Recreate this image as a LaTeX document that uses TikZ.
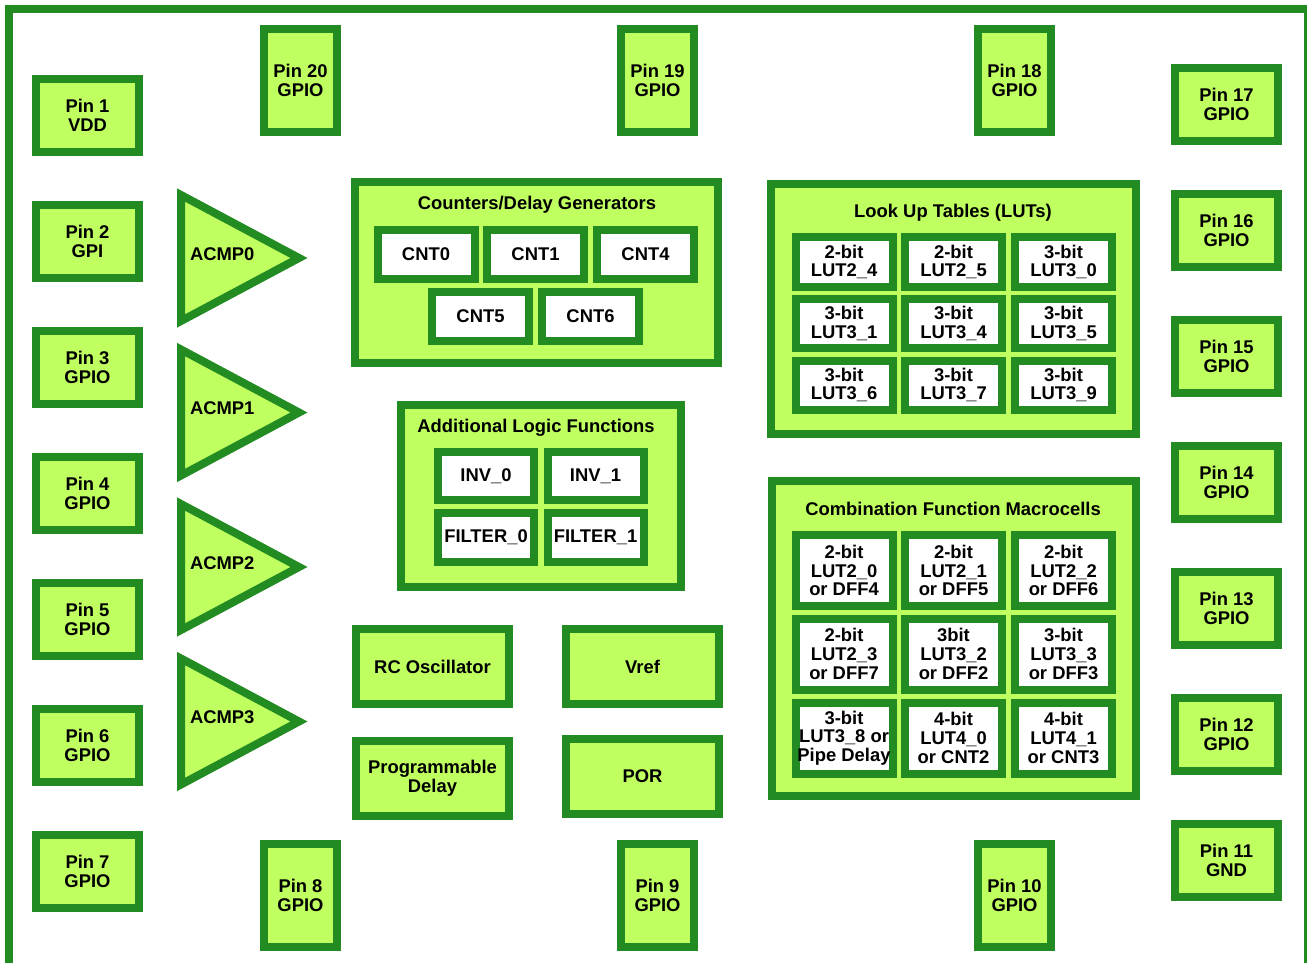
\documentclass[tikz,border=0pt]{standalone}
\usepackage{fontspec}
\setmainfont{Liberation Sans}
\definecolor{dg}{HTML}{228B22}
\definecolor{lg}{HTML}{C0FF60}
\begin{document}
\begin{tikzpicture}[x=0.75pt,y=-0.75pt,
  every node/.style={font=\bfseries\fontsize{13.8}{14}\selectfont, align=center, inner sep=0pt, outer sep=0pt},
  box/.style={draw=dg, line width=6pt, fill=lg},
  wbox/.style={draw=dg, line width=6pt, fill=white},
  pinv/.style={box, minimum width=77.25pt, minimum height=54.75pt},
  pinh/.style={box, minimum width=54.75pt, minimum height=77.25pt},
  cell/.style={wbox, minimum width=72.75pt, minimum height=36.75pt},
  ccell/.style={wbox, minimum width=72.75pt, minimum height=53.25pt},
  blk/.style={box, minimum width=114.75pt, minimum height=56.25pt},
  tri/.style={draw=dg, line width=6pt, fill=lg, line join=miter},
  frame/.style={draw=dg}
]
\useasboundingbox (0,0) rectangle (1307,963);
% outer frame
\draw[frame, line width=6pt] (9,963) -- (9,5);
\draw[frame, line width=6pt] (5,9) -- (1307,9);
\draw[frame, line width=2.25pt] (1305.3,13) -- (1305.3,963);

% left pins
\node[pinv] (p1) at (87.5,115.5) {Pin 1\\VDD};
\node[pinv] (p2) at (87.5,241.5) {Pin 2\\GPI};
\node[pinv] (p3) at (87.5,367.5) {Pin 3\\GPIO};
\node[pinv] (p4) at (87.5,493.5) {Pin 4\\GPIO};
\node[pinv] (p5) at (87.5,619.5) {Pin 5\\GPIO};
\node[pinv] (p6) at (87.5,745.5) {Pin 6\\GPIO};
\node[pinv] (p7) at (87.5,871.5) {Pin 7\\GPIO};
% right pins
\node[pinv] (p17) at (1226.5,104.5) {Pin 17\\GPIO};
\node[pinv] (p16) at (1226.5,230.5) {Pin 16\\GPIO};
\node[pinv] (p15) at (1226.5,356.5) {Pin 15\\GPIO};
\node[pinv] (p14) at (1226.5,482.5) {Pin 14\\GPIO};
\node[pinv] (p13) at (1226.5,608.5) {Pin 13\\GPIO};
\node[pinv] (p12) at (1226.5,734.5) {Pin 12\\GPIO};
\node[pinv] (p11) at (1226.5,860.5) {Pin 11\\GND};
% top pins
\node[pinh] (p20) at (300.5,80.5) {Pin 20\\GPIO};
\node[pinh] (p19) at (657.5,80.5) {Pin 19\\GPIO};
\node[pinh] (p18) at (1014.5,80.5) {Pin 18\\GPIO};
% bottom pins
\node[pinh] (p8) at (300.5,895.5) {Pin 8\\GPIO};
\node[pinh] (p9) at (657.5,895.5) {Pin 9\\GPIO};
\node[pinh] (p10) at (1014.5,895.5) {Pin 10\\GPIO};

% comparators
\foreach \c/\n in {258/0,412.5/1,567/2,721.5/3}{
  \draw[tri] (181,\c-63) -- (181,\c+63) -- (299,\c) -- cycle;
  \node[anchor=west] (acmp\n) at (190,\c-4) {ACMP\n};
}

% counters
\node[box, minimum width=272.25pt, minimum height=135.75pt] (cntbox) at (536.5,272.5) {};
\node (cnttitle) at (537,205) {Counters/Delay Generators};
\node[cell] (cnt0) at (426,254.5) {CNT0};
\node[cell] (cnt1) at (535.5,254.5) {CNT1};
\node[cell] (cnt4) at (645.5,254.5) {CNT4};
\node[cell] (cnt5) at (480.5,316) {CNT5};
\node[cell] (cnt6) at (590.5,316) {CNT6};

% additional logic
\node[box, minimum width=210pt, minimum height=136.5pt] (alfbox) at (541,496) {};
\node (alftitle) at (536,428) {Additional Logic Functions};
\node[wbox, minimum width=72pt, minimum height=36pt] (inv0) at (486,476) {INV\_0};
\node[wbox, minimum width=72pt, minimum height=36pt] (inv1) at (595.5,476) {INV\_1};
\node[wbox, minimum width=72pt, minimum height=36.75pt] (filt0) at (486,537.5) {FILTER\_0};
\node[wbox, minimum width=72pt, minimum height=36.75pt] (filt1) at (595.5,537.5) {FILTER\_1};

% misc blocks
\node[blk] (rcosc) at (432.5,666.5) {RC Oscillator};
\node[blk] (vref) at (642.5,666.5) {Vref};
\node[blk] (pdly) at (432.5,778.5) {Programmable\\Delay};
\node[blk] (por) at (642.5,776.5) {POR};

% LUTs
\node[box, minimum width=273.75pt, minimum height=187.5pt] (lutbox) at (953.5,309) {};
\node (luttitle) at (953,213) {Look Up Tables (LUTs)};
\node[cell] (l24) at (844,262) {2-bit\\LUT2\_4};
\node[cell] (l25) at (953.5,262) {2-bit\\LUT2\_5};
\node[cell] (l30) at (1063.5,262) {3-bit\\LUT3\_0};
\node[cell] (l31) at (844,323.5) {3-bit\\LUT3\_1};
\node[cell] (l34) at (953.5,323.5) {3-bit\\LUT3\_4};
\node[cell] (l35) at (1063.5,323.5) {3-bit\\LUT3\_5};
\node[cell] (l36) at (844,385) {3-bit\\LUT3\_6};
\node[cell] (l37) at (953.5,385) {3-bit\\LUT3\_7};
\node[cell] (l39) at (1063.5,385) {3-bit\\LUT3\_9};

% combination macrocells
\node[box, minimum width=273pt, minimum height=236.25pt] (cfmbox) at (954,638.5) {};
\node (cfmtitle) at (953,509) {Combination Function Macrocells};
\node[ccell] (c20) at (844,570.5) {2-bit\\LUT2\_0\\or DFF4};
\node[ccell] (c21) at (953.5,570.5) {2-bit\\LUT2\_1\\or DFF5};
\node[ccell] (c22) at (1063.5,570.5) {2-bit\\LUT2\_2\\or DFF6};
\node[ccell] (c23) at (844,654) {2-bit\\LUT2\_3\\or DFF7};
\node[ccell] (c32) at (953.5,654) {3bit\\LUT3\_2\\or DFF2};
\node[ccell] (c33) at (1063.5,654) {3-bit\\LUT3\_3\\or DFF3};
\node[ccell] (c38) at (844,738) {3-bit\\LUT3\_8 or\\Pipe Delay};
\node[ccell] (c40) at (953.5,738) {4-bit\\LUT4\_0\\or CNT2};
\node[ccell] (c41) at (1063.5,738) {4-bit\\LUT4\_1\\or CNT3};
\end{tikzpicture}
\end{document}
